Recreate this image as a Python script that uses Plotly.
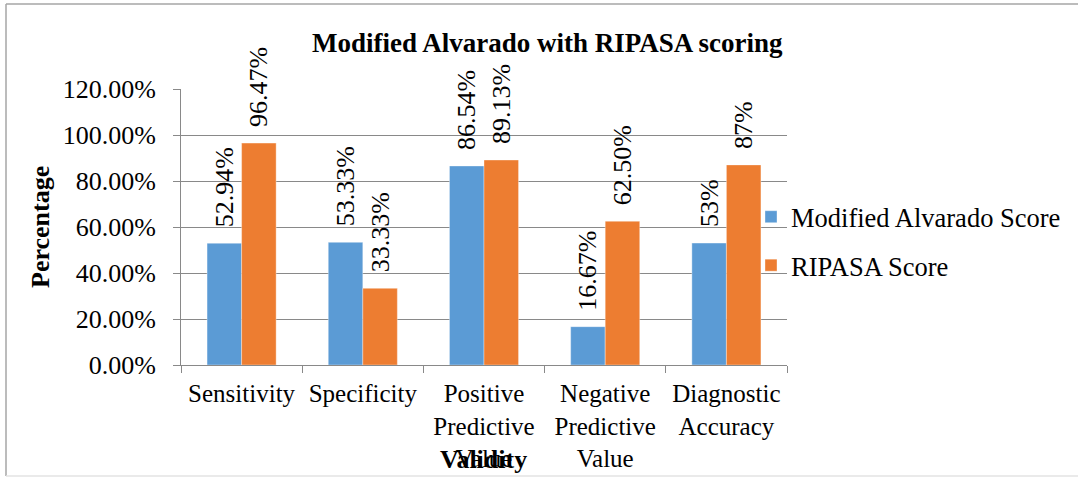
import plotly.graph_objects as go

# ---- data ----
categories = ["Sensitivity", "Specificity", "Positive<br>Predictive<br>Value",
              "Negative<br>Predictive<br>Value", "Diagnostic<br>Accuracy"]
alvarado_values = [52.94, 53.33, 86.54, 16.67, 53.0]
ripasa_values = [96.47, 33.33, 89.13, 62.50, 87.0]
alvarado_labels = ["52.94%", "53.33%", "86.54%", "16.67%", "53%"]
ripasa_labels = ["96.47%", "33.33%", "89.13%", "62.50%", "87%"]
y_ticks = [0, 20, 40, 60, 80, 100, 120]
y_tick_labels = ["0.00%", "20.00%", "40.00%", "60.00%", "80.00%", "100.00%", "120.00%"]

W, H = 1078, 477
L, R, T, B = 181, 787, 89, 365
FONT = "Liberation Serif, Times New Roman, serif"

def px_x(p):
    return (p - L) / (R - L)

def px_y(p):
    return (B - p) / (B - T)

fig = go.Figure()
for name, vals, labs, col, grp in [
    ("Modified Alvarado Score", alvarado_values, alvarado_labels, "#5B9BD5", "a"),
    ("RIPASA Score", ripasa_values, ripasa_labels, "#ED7D31", "b"),
]:
    fig.add_trace(go.Bar(
        x=categories, y=vals, name=name, text=labs,
        texttemplate="\u00a0\u00a0%{text}",
        textposition="outside", textangle=-90, constraintext="none",
        cliponaxis=False, legendgroup=grp,
        textfont=dict(family=FONT, size=26, color="black"),
        marker=dict(color=col, line=dict(color="rgba(255,255,255,0.6)", width=0.6)),
    ))

fig.update_layout(
    width=W, height=H,
    margin=dict(l=L, r=W - R, t=T, b=H - B, autoexpand=False),
    paper_bgcolor="white", plot_bgcolor="white",
    barmode="group", bargap=0.43, bargroupgap=0,
    font=dict(family=FONT, size=26, color="black"),
    showlegend=True,
    legend=dict(x=px_x(751), y=px_y(241), xanchor="left", yanchor="middle",
                font=dict(family=FONT, size=26.5, color="black"),
                bgcolor="rgba(0,0,0,0)", tracegroupgap=11,
                traceorder="grouped"),
)

fig.update_xaxes(
    type="category", showgrid=False, showline=True, linecolor="#898989", linewidth=1,
    ticks="outside", tickson="boundaries", ticklen=7, tickcolor="#898989",
    ticklabelstandoff=6, tickangle=0, automargin=False,
    tickfont=dict(family=FONT, size=25, color="black"),
)
fig.update_yaxes(
    range=[0, 120], tickmode="array", tickvals=y_ticks, ticktext=y_tick_labels,
    showgrid=True, gridcolor="#898989", gridwidth=1,
    showline=True, linecolor="#898989", linewidth=1,
    ticks="outside", ticklen=7, tickcolor="#898989",
    ticklabelstandoff=12, zeroline=False, automargin=False,
    tickfont=dict(family=FONT, size=26, color="black"),
)

# title and axis titles
fig.add_annotation(text="<b>Modified Alvarado with RIPASA scoring</b>",
                   xref="paper", yref="paper", x=px_x(547), y=px_y(43),
                   showarrow=False, xanchor="center", yanchor="middle",
                   font=dict(family=FONT, size=27, color="black"))
fig.add_annotation(text="<b>Percentage</b>", textangle=-90,
                   xref="paper", yref="paper", x=px_x(40), y=px_y(227),
                   showarrow=False, xanchor="center", yanchor="middle",
                   font=dict(family=FONT, size=26, color="black"))
fig.add_annotation(text="<b>Validity</b>",
                   xref="paper", yref="paper", x=px_x(483), y=px_y(459),
                   showarrow=False, xanchor="center", yanchor="middle",
                   font=dict(family=FONT, size=26, color="black"))

# outer chart border
fig.add_shape(type="line", xref="paper", yref="paper",
              x0=px_x(6), x1=px_x(6), y0=px_y(4), y1=px_y(476),
              line=dict(color="#a6a6a6", width=1.5))
fig.add_shape(type="line", xref="paper", yref="paper",
              x0=px_x(6), x1=px_x(1100), y0=px_y(4), y1=px_y(4),
              line=dict(color="#a6a6a6", width=1.5))
fig.add_shape(type="line", xref="paper", yref="paper",
              x0=px_x(6), x1=px_x(1100), y0=px_y(476), y1=px_y(476),
              line=dict(color="#e3e3e3", width=1.5))

fig.write_html("out.html", config={"displayModeBar": False},
               post_script="document.body.style.margin='0';document.body.style.overflow='hidden';")
